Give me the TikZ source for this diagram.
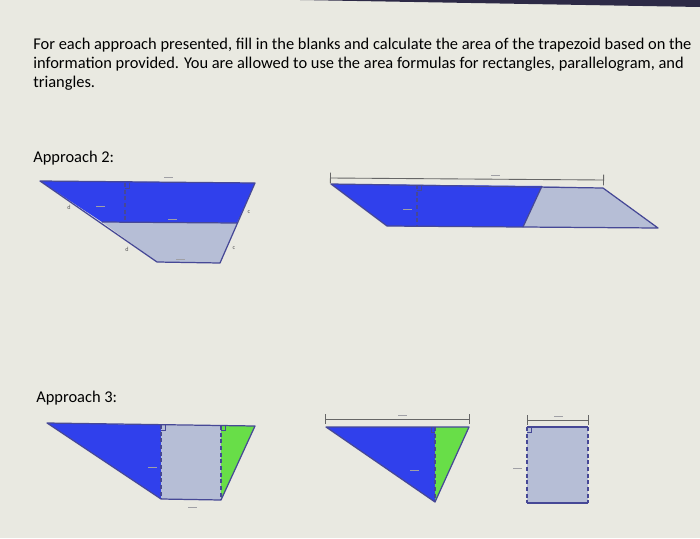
\documentclass[tikz,border=0pt]{standalone}
\usepackage{fontspec}
\setmainfont{Carlito}
\usepackage{tikz}
\usetikzlibrary{arrows,calc,positioning}

\definecolor{paper}{RGB}{233,233,225}
\definecolor{bezel}{RGB}{45,42,70}
\definecolor{shapeblue}{RGB}{48,64,236}
\definecolor{shapegray}{RGB}{182,190,214}
\definecolor{shapegreen}{RGB}{104,222,72}
\definecolor{edge}{RGB}{70,72,150}
\definecolor{faint}{RGB}{160,160,165}

\tikzset{
  edgeline/.style={draw=edge,line width=0.7pt,line join=round},
  heightline/.style={draw=edge,line width=0.8pt,dash pattern=on 2.2pt off 1.6pt},
  dimline/.style={draw=gray!80!black,line width=0.5pt,|-|},
  blankfield/.style={fill=faint,draw=none,inner sep=0pt,minimum width=0.18cm,minimum height=0.4pt},
  tinylabel/.style={text=gray!70!black,font=\fontsize{3.5}{4}\selectfont,inner sep=0pt},
  maintext/.style={font=\fontsize{9.35}{10.8}\selectfont,align=left,inner sep=0pt}
}

\begin{document}
\begin{tikzpicture}[x=0.02cm,y=-0.02cm]
\fill[paper] (0,0) rectangle (700,538);
\useasboundingbox (0,0) rectangle (700,538);
\fill[bezel] (300,0) -- (700,0) -- (700,7) -- cycle;

% instructions
\node[maintext,anchor=north west] (intro) at (33,38) {For each approach presented, fill in the blanks and calculate the area of the trapezoid based on the\\
information provided. You are allowed to use the area formulas for rectangles, parallelogram, and\\
triangles.};
\node[maintext,anchor=west] (app2) at (33,158) {Approach 2:};
\node[maintext,anchor=west] (app3) at (36,398) {Approach 3:};

% approach 2, cut trapezoid
\coordinate (a1) at (40,181);
\coordinate (b1) at (255,183);
\coordinate (c1) at (237,223);
\coordinate (d1) at (102,222);
\coordinate (e1) at (220,263);
\coordinate (f1) at (157,262);
\fill[shapeblue] (a1) -- (b1) -- (c1) -- (d1) -- cycle;
\fill[shapegray] (d1) -- (c1) -- (e1) -- (f1) -- cycle;
\draw[edgeline] (a1) -- (b1) -- (e1) -- (f1) -- cycle;
\draw[edgeline] (d1) -- (c1);
\draw[heightline] (125,183) -- (125,222);
\draw[edge,line width=0.5pt] (125,188) -- (129,188) -- (129,183);
\node[tinylabel] (d1lab) at (69,207) {d};
\node[tinylabel] (d2lab) at (127,249) {d};
\node[tinylabel] (c1lab) at (249,212) {c};
\node[tinylabel] (c2lab) at (234,248) {c};
\node[blankfield] (bl1) at (100,206) {};
\node[blankfield] (bl2) at (172,219) {};
\node[blankfield] (bl3) at (168,177) {};
\node[blankfield] (bl4) at (180,259) {};

% approach 2, parallelogram
\coordinate (p1) at (331,184);
\coordinate (p2) at (542,186);
\coordinate (p3) at (603,188);
\coordinate (p4) at (658,228);
\coordinate (p5) at (523,227);
\coordinate (p6) at (387,226);
\fill[shapeblue] (p1) -- (p2) -- (p5) -- (p6) -- cycle;
\fill[shapegray] (p2) -- (p3) -- (p4) -- (p5) -- cycle;
\draw[edgeline] (p1) -- (p3) -- (p4) -- (p6) -- cycle;
\draw[edgeline] (p2) -- (p5);
\draw[heightline] (417,185) -- (417,226);
\draw[edge,line width=0.5pt] (417,190) -- (421,190) -- (421,185);
\draw[dimline] (330,178) -- (604,180);
\node[blankfield] (bl5) at (495,175) {};
\node[blankfield] (bl6) at (407,209) {};

% approach 3, split trapezoid
\coordinate (q1) at (47,423);
\coordinate (q2) at (161,425);
\coordinate (q3) at (221,426);
\coordinate (q4) at (255,426);
\coordinate (q5) at (221,500);
\coordinate (q6) at (161,499);
\fill[shapeblue] (q1) -- (q2) -- (q6) -- cycle;
\fill[shapegray] (q2) -- (q3) -- (q5) -- (q6) -- cycle;
\fill[shapegreen] (q3) -- (q4) -- (q5) -- cycle;
\draw[edgeline] (q1) -- (q4) -- (q5) -- (q6) -- cycle;
\draw[heightline] (q2) -- (q6);
\draw[heightline] (q3) -- (q5);
\draw[edge,line width=0.5pt] (161,430) -- (165,430) -- (165,425);
\draw[edge,line width=0.5pt] (221,430) -- (225,430) -- (225,426);
\node[blankfield] (bl7) at (152,467) {};
\node[blankfield] (bl8) at (192,507) {};

% approach 3, triangles
\coordinate (r1) at (326,427);
\coordinate (r2) at (435,427);
\coordinate (r3) at (469,427);
\coordinate (r4) at (435,502);
\fill[shapeblue] (r1) -- (r2) -- (r4) -- cycle;
\fill[shapegreen] (r2) -- (r3) -- (r4) -- cycle;
\draw[edgeline] (r1) -- (r3) -- (r4) -- cycle;
\draw[heightline] (r2) -- (r4);
\draw[edge,line width=0.5pt] (435,432) -- (431,432) -- (431,427);
\draw[dimline] (325,419) -- (470,419);
\node[blankfield] (bl9) at (402,415) {};
\node[blankfield] (bl10) at (414,470) {};

% approach 3, rectangle
\coordinate (s1) at (527,427);
\coordinate (s2) at (588,427);
\coordinate (s3) at (588,503);
\coordinate (s4) at (527,503);
\fill[shapegray] (s1) rectangle (s3);
\draw[edgeline] (s1) -- (s2);
\draw[edgeline] (s4) -- (s3);
\draw[heightline] (s1) -- (s4);
\draw[heightline] (s2) -- (s3);
\draw[edge,line width=0.5pt] (527,432) -- (531,432) -- (531,427);
\draw[dimline] (527,420) -- (589,420);
\node[blankfield] (bl11) at (558,416) {};
\node[blankfield] (bl12) at (517,468) {};
\end{tikzpicture}
\end{document}
